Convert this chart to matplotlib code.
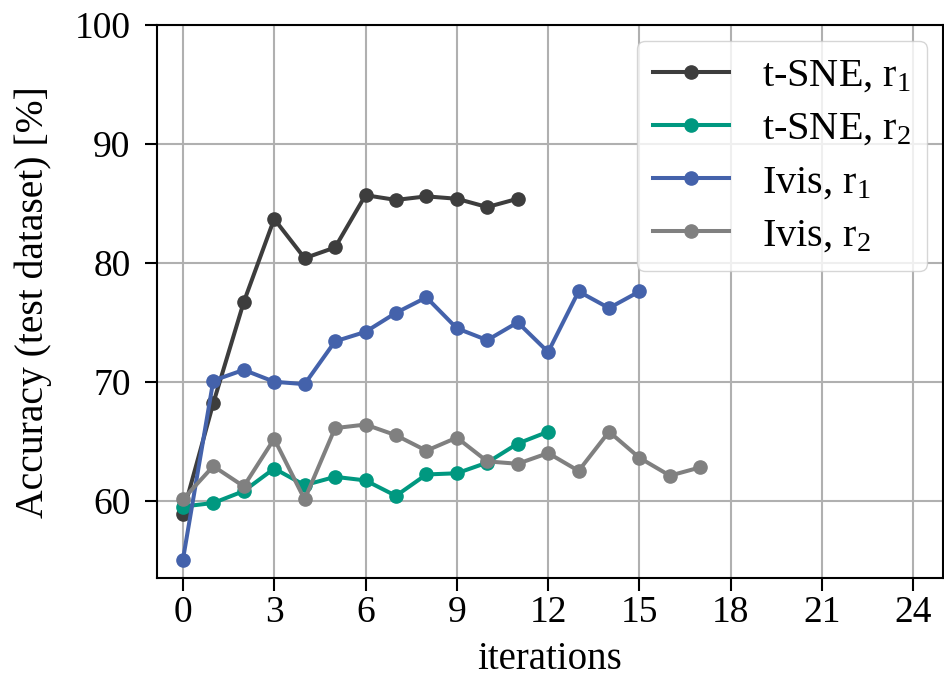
import numpy as np
import matplotlib
matplotlib.use("Agg")
import matplotlib.pyplot as plt

plt.rcParams['font.family'] = ['Liberation Serif', 'DejaVu Serif']
plt.rcParams['mathtext.fontset'] = 'custom'
plt.rcParams['mathtext.rm'] = 'Liberation Serif'
plt.rcParams['mathtext.it'] = 'Liberation Serif:italic'

# accuracy per iteration
tsne_r1 = [58.9, 68.2, 76.7, 83.7, 80.4, 81.3, 85.7, 85.3, 85.6, 85.4, 84.7, 85.4]
tsne_r2 = [59.5, 59.8, 60.8, 62.7, 61.3, 62.0, 61.7, 60.4, 62.2, 62.3, 63.2, 64.8, 65.8]
ivis_r1 = [55.0, 70.1, 71.0, 70.0, 69.8, 73.4, 74.2, 75.8, 77.1, 74.5, 73.5, 75.0, 72.5,
           77.6, 76.2, 77.6]
ivis_r2 = [60.1, 62.9, 61.2, 65.2, 60.1, 66.1, 66.4, 65.5, 64.2, 65.3, 63.3, 63.1, 64.0,
           62.5, 65.8, 63.6, 62.1, 62.8]

series = [
    (tsne_r1, '#3d3d3d', r't-SNE, $\mathrm{r}_1$'),
    (tsne_r2, '#009880', r't-SNE, $\mathrm{r}_2$'),
    (ivis_r1, '#4462ab', r'Ivis, $\mathrm{r}_1$'),
    (ivis_r2, '#808080', r'Ivis, $\mathrm{r}_2$'),
]

fs = 27

fig = plt.figure(figsize=(9.44, 6.82), dpi=100)
ax = fig.add_axes([0.1663, 0.152, 0.8326, 0.811])

for vals, col, lab in series:
    ax.plot(np.arange(len(vals)), vals, '-o', color=col, lw=2.9, ms=9.5, label=lab)

ax.set_xlim(-0.85, 24.97)
ax.set_ylim(53.46, 100)
ax.set_xticks(np.arange(0, 25, 3))
ax.set_yticks([60, 70, 80, 90, 100])
ax.grid(True, color='#b0b0b0', lw=1.5)
ax.set_axisbelow(True)
for s in ax.spines.values():
    s.set_linewidth(1.5)
ax.tick_params(labelsize=fs, width=1.5, length=9)
ax.tick_params(axis='y', pad=10)
ax.set_xlabel('iterations', fontsize=28, labelpad=8)
ax.set_ylabel('Accuracy (test dataset) [%]', fontsize=28.5, labelpad=16)

ax.legend(loc='upper right', fontsize=29, handlelength=1.9, labelspacing=0.4,
          borderpad=0.4, borderaxespad=0.4)

fig.savefig('out.png', dpi=100)
